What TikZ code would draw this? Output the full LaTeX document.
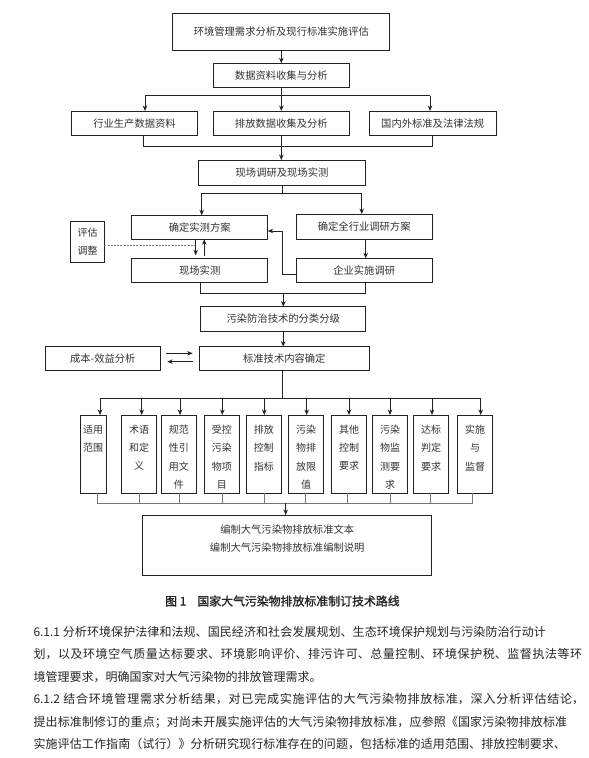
\documentclass[tikz,border=0pt]{standalone}
\usepackage{fontspec}
\newfontfamily\cjk{Noto Sans CJK SC}
\newfontfamily\cjkcap[FakeBold=1.5]{Noto Sans CJK SC}
\usetikzlibrary{arrows.meta}
\definecolor{txt}{HTML}{333333}
\definecolor{lnc}{HTML}{222222}
\definecolor{lng}{HTML}{777777}
\newcommand{\jline}[2]{\parbox[t]{#1}{\XeTeXlinebreaklocale "zh"\XeTeXlinebreakskip=0pt plus 2pt minus 0.3pt\relax\parfillskip=0pt\tolerance=9999\hbadness=10000\noindent #2}}
\newcommand{\tallbox}[4]{\node[box, anchor=north] (#1) at (#2,415) {\parbox[c][78.3pt][t]{#3pt}{\centering\fontsize{10}{18.3}\selectfont\vspace*{10pt}#4}};}
\begin{document}
\begin{tikzpicture}[x=1pt,y=-1pt,
  box/.style={draw=lnc, line width=0.9pt, inner sep=0pt, outer sep=0pt, text=txt, font=\cjk\fontsize{10.3}{12}\selectfont},
  conn/.style={draw=lnc, line width=0.8pt},
  connlight/.style={draw=lng, line width=0.8pt},
  arr/.style={draw=lnc, line width=0.8pt, -{Stealth[length=5.5pt,width=4.5pt]}},
  para/.style={anchor=base west, inner sep=0pt, text=black!85, font=\cjk\fontsize{12}{14}\selectfont}]
\fill[white] (0,0) rectangle (589,758);
\useasboundingbox (0,0) rectangle (589,758);

% top section
\node[box, minimum width=217pt, minimum height=37.4pt] (b1) at (281.3,32) {环境管理需求分析及现行标准实施评估};
\node[box, minimum width=136pt, minimum height=24pt] (b2) at (281.3,75.3) {数据资料收集与分析};
\node[box, minimum width=125.6pt, minimum height=24.7pt] (r1) at (134.5,123.3) {行业生产数据资料};
\node[box, minimum width=136pt, minimum height=24.7pt] (r2) at (281.3,123.3) {排放数据收集及分析};
\node[box, minimum width=126.7pt, minimum height=24.7pt] (r3) at (432.7,123.3) {国内外标准及法律法规};
\node[box, minimum width=167.4pt, minimum height=25pt] (b4) at (282,172.5) {现场调研及现场实测};
\node[box, minimum width=136pt, minimum height=24pt] (s1) at (199.7,227.3) {确定实测方案};
\node[box, minimum width=136.3pt, minimum height=25.3pt] (s2) at (364.2,226.7) {确定全行业调研方案};
\node[box, minimum width=33.6pt, minimum height=41.3pt, align=center, font=\cjk\fontsize{10}{17.3}\selectfont] (ev) at (87.5,241.7) {评估\\调整};
\node[box, minimum width=136pt, minimum height=24pt] (m1) at (199.7,270.3) {现场实测};
\node[box, minimum width=136.3pt, minimum height=24pt] (m2) at (364.2,270.3) {企业实施调研};
\node[box, minimum width=165pt, minimum height=24.3pt] (b7) at (283.2,318.8) {污染防治技术的分类分级};
\node[box, minimum width=170pt, minimum height=23.6pt] (b8) at (284.3,358.5) {标准技术内容确定};
\node[box, minimum width=114.3pt, minimum height=23.6pt] (cb) at (102.8,358.5) {成本-效益分析};

% tall boxes
\tallbox{t1}{93}{26}{适用\\范围}
\tallbox{t2}{139}{35.4}{术语\\和定\\义}
\tallbox{t3}{178.8}{35.7}{规范\\性引\\用文\\件}
\tallbox{t4}{221.8}{35}{受控\\污染\\物项\\目}
\tallbox{t5}{263.8}{35.7}{排放\\控制\\指标}
\tallbox{t6}{306}{35.4}{污染\\物排\\放限\\值}
\tallbox{t7}{349.2}{35}{其他\\控制\\要求}
\tallbox{t8}{390}{35.4}{污染\\物监\\测要\\求}
\tallbox{t9}{431}{35.4}{达标\\判定\\要求}
\tallbox{t10}{475}{35.4}{实施\\与\\监督}

\node[box, anchor=north] (out) at (287.2,515) {\parbox[c][60pt][t]{289pt}{\centering\fontsize{10.3}{17.7}\selectfont\vspace*{10pt}编制大气污染物排放标准文本\\编制大气污染物排放标准编制说明}};

% caption
\node[anchor=west, inner sep=0pt, text=black!85, font=\cjkcap\fontsize{11.9}{14}\selectfont] (cap) at (165,601) {图 1\hspace{11pt}国家大气污染物排放标准制订技术路线};

% paragraph
\node[para] (p1) at (33.3,636.5) {\jline{512.4pt}{6.1.1 分析环境保护法律和法规、国民经济和社会发展规划、生态环境保护规划与污染防治行动计}};
\node[para] (p2) at (33.3,658.9) {\jline{548.7pt}{划，以及环境空气质量达标要求、环境影响评价、排污许可、总量控制、环境保护税、监督执法等环}};
\node[para] (p3) at (33.3,681.3) {境管理要求，明确国家对大气污染物的排放管理需求。};
\node[para] (p4) at (33.3,703.7) {\jline{550.7pt}{6.1.2 结合环境管理需求分析结果，对已完成实施评估的大气污染物排放标准，深入分析评估结论，}};
\node[para] (p5) at (33.3,726.1) {\jline{533.7pt}{提出标准制修订的重点；对尚未开展实施评估的大气污染物排放标准，应参照《国家污染物排放标准}};
\node[para] (p6) at (33.3,748.5) {\jline{532.4pt}{实施评估工作指南（试行）》分析研究现行标准存在的问题，包括标准的适用范围、排放控制要求、}};

% connectors: top
\draw[arr] (b1.south) -- (b2.north);
\coordinate (j1) at (281.3,95.7);
\coordinate (j1l) at (145,95.7);
\coordinate (j1r) at (430,95.7);
\draw[conn] (b2.south) -- (j1);
\draw[conn] (j1l) -- (j1r);
\draw[arr] (j1l) -- (j1l |- r1.north);
\draw[arr] (j1) -- (r2.north);
\draw[arr] (j1r) -- (j1r |- r3.north);
\coordinate (k1l) at (143.3,146);
\coordinate (k1r) at (432.3,146);
\draw[conn] (k1l |- r1.south) -- (k1l) -- (k1r) -- (k1r |- r3.south);
\draw[arr] (r2.south) -- (r2.south |- b4.north);

% row 4-6
\coordinate (j2l) at (201.7,193.3);
\coordinate (j2r) at (361.7,193.3);
\draw[conn] (b4.south) -- (b4.south |- j2l);
\draw[conn] (j2l) -- (j2r);
\draw[arr] (j2l) -- (j2l |- s1.north);
\draw[arr] (j2r) -- (j2r |- s2.north);
\coordinate (dv) at (195.7,245.7);
\draw[connlight, dash pattern=on 2pt off 1.2pt] (ev.east |- dv) -- (dv);
\draw[arr, shorten >=3pt] (dv |- s1.south) -- (dv |- m1.north);
\coordinate (uv) at (204.3,250);
\draw[arr, shorten <=2pt] (uv |- m1.north) -- (uv |- s1.south);
\coordinate (cv) at (365.7,250);
\draw[arr] (cv |- s2.south) -- (cv |- m2.north);
\coordinate (fb) at (282.7,274.3);
\coordinate (fb2) at (282.7,231);
\draw[arr] (m2.west |- fb) -- (fb) -- (fb2) -- (s1.east |- fb2);
\coordinate (k2l) at (200.7,293.3);
\coordinate (k2r) at (365,293.3);
\coordinate (k2m) at (283.3,293.3);
\draw[conn] (k2l |- m1.south) -- (k2l) -- (k2r) -- (k2r |- m2.south);
\draw[arr] (k2m) -- (k2m |- b7.north);
\draw[arr] (b7.south) -- (b7.south |- b8.north);

% cost-benefit arrows
\coordinate (ya) at (0,353.3);
\coordinate (yb) at (0,361.7);
\draw[arr, shorten <=6pt, shorten >=6.6pt] (cb.east |- ya) -- (b8.west |- ya);
\draw[arr, shorten <=6pt, shorten >=7.3pt] (b8.west |- yb) -- (cb.east |- yb);

% bus to tall boxes
\coordinate (j3) at (282.3,398);
\draw[conn] (j3 |- b8.south) -- (j3);
\draw[conn] (100,398) coordinate (j3l) -- (480.7,398) coordinate (j3r);
\foreach \a/\n in {100/1,141.7/2,180/3,222.3/4,264.3/5,306.7/6,349/7,390/8,432/9,480.7/10}{
  \coordinate (ta\n) at (\a,398);
  \draw[arr] (ta\n) -- (ta\n |- t\n.north);
}
\foreach \b/\n in {97.3/1,139.3/2,179.3/3,222.3/4,264/5,305.7/6,347.3/7,390/8,430.7/9,472.7/10}{
  \coordinate (tb\n) at (\b,503);
  \draw[connlight] (tb\n |- t\n.south) -- (tb\n);
}
\draw[connlight] (tb1) -- (tb10);
\coordinate (k3m) at (285.7,503);
\draw[arr] (k3m) -- (k3m |- out.north);
\end{tikzpicture}
\end{document}
